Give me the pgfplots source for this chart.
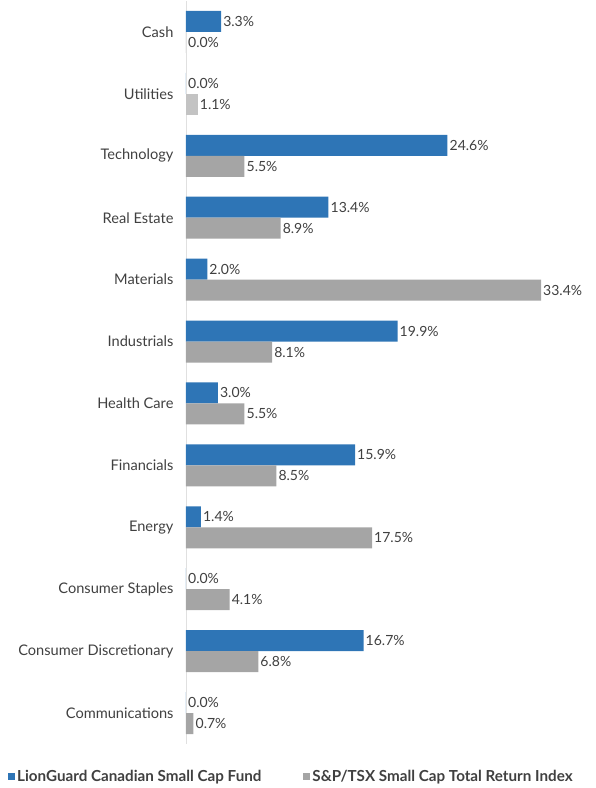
\documentclass[border=0pt]{standalone}
\usepackage{pgfplots}
\pgfplotsset{compat=1.18}
\usepackage{fontspec}
\setmainfont{Lato}
\definecolor{fundblue}{HTML}{2E75B6}
\definecolor{idxgray}{HTML}{A5A5A5}
\definecolor{utilgray}{HTML}{C3C3C3}
\definecolor{txt}{HTML}{404040}
\begin{document}
\begin{tikzpicture}[x=1pt,y=1pt]
\path[use as bounding box] (0,0) rectangle (596,788);
\begin{axis}[
  at={(186pt,44pt)}, anchor=south west,
  scale only axis, width=380pt, height=743pt,
  xbar, bar width=21pt,
  xmin=0, xmax=35.75, ymin=-0.5, ymax=11.5,
  axis x line=none,
  axis y line*=left,
  y axis line style={draw=black!12, line width=0.8pt},
  ytick={0,...,11},
  yticklabels={Communications,Consumer Discretionary,Consumer Staples,Energy,Financials,Health Care,Industrials,Materials,Real Estate,Technology,Utilities,Cash},
  yticklabel style={font=\fontsize{14.6}{17}\selectfont, text=txt, xshift=-9pt},
  major tick length=0pt,
  /pgf/number format/assume math mode=true,
  nodes near coords={\pgfmathprintnumber[fixed,fixed zerofill,precision=1,assume math mode=true]{\pgfplotspointmeta}\%},
  point meta=explicit,
  nodes near coords style={font=\fontsize{14}{16}\selectfont, text=txt, anchor=west, inner sep=2pt},
  clip=false,
  legend style={at={(-178pt,-33pt)}, anchor=west, draw=none, fill=none,
    legend columns=2, font=\fontsize{15.2}{17}\selectfont\bfseries, text=txt,
    /tikz/every even column/.style={column sep=40pt}, inner sep=0pt,
    legend cell align=left},
  legend image code/.code={\fill[#1] (0pt,-3.5pt) rectangle (7pt,3.5pt);},
]
\addplot[fill=fundblue, draw=none, bar shift=10.5pt] coordinates {
 (0,0) [0] (16.7,1) [16.7] (0,2) [0] (1.4,3) [1.4] (15.9,4) [15.9] (3.0,5) [3.0]
 (19.9,6) [19.9] (2.0,7) [2.0] (13.4,8) [13.4] (24.6,9) [24.6] (0,10) [0] (3.3,11) [3.3]};
\addlegendentry{LionGuard Canadian Small Cap Fund}
\addplot[fill=idxgray, draw=none, bar shift=-10.5pt] coordinates {
 (0.7,0) [0.7] (6.8,1) [6.8] (4.1,2) [4.1] (17.5,3) [17.5] (8.5,4) [8.5] (5.5,5) [5.5]
 (8.1,6) [8.1] (33.4,7) [33.4] (8.9,8) [8.9] (5.5,9) [5.5] (0,11) [0]};
\addlegendentry{S\&P/TSX Small Cap Total Return Index}
\addplot[fill=utilgray, draw=none, bar shift=-10.5pt, forget plot] coordinates {
 (1.1,10) [1.1]};
\end{axis}
\end{tikzpicture}
\end{document}
